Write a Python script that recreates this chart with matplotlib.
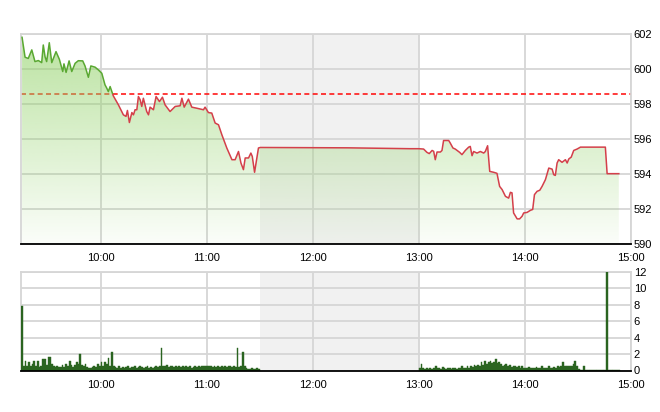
import numpy as np
import matplotlib
matplotlib.use("Agg")
import matplotlib.pyplot as plt
from matplotlib.patches import Rectangle, Polygon

plt.rcParams['font.family'] = ['Liberation Sans', 'DejaVu Sans']

# ---- price series (time in minutes since midnight, index value) ----
price_min = [555.6, 557.3, 559.1, 561.1, 562.9, 564.8, 566.7, 567.6, 568.6, 569.5,
             571.0, 572.4, 574.8, 576.7, 578.6, 579.3, 580.5, 582.2, 583.7, 585.6,
             587.4, 589.9, 591.2, 593.1, 594.5, 596.9, 598.8, 600.7, 602.5, 603.5,
             604.4, 605.4, 607.2, 610.1, 612.9, 614.4, 615.2, 616.3, 617.7, 618.6,
             619.5, 620.5, 621.4, 622.4, 623.3, 624.2, 626.1, 627.1, 628.0, 629.9,
             631.4, 633.3, 635.0, 636.5, 639.3, 642.2, 645.0, 646.0, 647.3, 649.7,
             651.6, 654.4, 658.2, 659.1, 661.0, 662.9, 664.8, 666.7, 668.6, 671.4,
             674.3, 676.1, 678.0, 679.4, 680.8, 681.8, 683.7, 685.0, 685.8, 687.1,
             689.3, 690.3, 740.0, 775.0, 780.0,
             782.7, 784.6, 785.9, 787.5, 788.4, 789.3, 790.3, 792.2, 793.1, 794.0,
             796.9, 797.8, 799.3, 800.6, 803.1, 804.4, 806.3, 808.2, 809.1, 810.1,
             811.0, 812.9, 814.8, 816.7, 817.6, 818.9, 820.1, 822.3, 824.2, 825.7,
             827.1, 829.0, 830.8, 831.8, 832.7, 833.6, 835.6, 837.0, 838.4, 839.3,
             841.2, 843.1, 844.4, 845.4, 846.9, 848.4, 849.7, 851.6, 853.5, 855.4,
             856.3, 857.2, 858.2, 859.1, 861.0, 862.9, 863.9, 864.8, 866.2, 867.6,
             869.5, 871.4, 885.5, 886.5, 893.1]
price_val = [601.81, 600.67, 600.60, 601.09, 600.42, 600.48, 600.36, 601.37, 600.70, 600.42,
             601.50, 600.36, 600.99, 600.55, 599.85, 600.29, 599.80, 600.46, 599.85, 600.32,
             600.47, 600.46, 600.17, 599.52, 600.17, 600.10, 599.94, 599.75, 599.09, 598.90,
             598.70, 598.99, 598.46, 597.94, 597.37, 597.28, 597.62, 596.93, 597.50, 597.37,
             597.66, 597.66, 598.42, 598.23, 597.85, 598.32, 597.56, 597.37, 597.81, 597.66,
             598.42, 598.13, 598.38, 597.94, 597.56, 597.85, 597.89, 598.32, 597.81, 598.27,
             597.81, 597.75, 597.66, 597.81, 597.50, 597.47, 596.90, 596.80, 596.23, 595.47,
             594.80, 594.80, 595.27, 594.61, 594.23, 594.90, 594.90, 595.18, 594.99, 594.08,
             595.47, 595.50, 595.48, 595.43, 595.43,
             595.41, 595.22, 595.15, 595.33, 595.28, 594.80, 595.24, 595.24, 595.33, 595.90,
             595.90, 595.75, 595.47, 595.41, 595.22, 595.09, 595.33, 595.52, 595.56, 595.03,
             595.27, 595.18, 595.27, 595.18, 595.27, 595.60, 594.13, 594.08, 594.02, 593.27,
             593.09, 592.70, 592.60, 592.93, 592.90, 591.75, 591.41, 591.41, 591.56, 591.75,
             591.78, 591.90, 591.95, 592.80, 592.99, 593.05, 593.27, 593.66, 594.32, 594.26,
             593.94, 593.90, 594.61, 594.80, 594.65, 594.80, 594.61, 594.84, 594.95, 595.33,
             595.41, 595.52, 595.52, 594.00, 594.00]
ref_price = 598.55

# ---- volume (one bar per minute) ----
vol_am_start = 555   # 09:15
vol_am = [7.9, 0.5, 1.2, 0.6, 1.0, 0.5, 0.8, 1.2, 0.6, 1.1,
          0.4, 0.6, 1.35, 1.35, 0.7, 1.6, 1.6, 0.8, 0.5, 0.4,
          0.5, 0.4, 0.4, 0.7, 0.4, 0.8, 0.5, 1.2, 0.7, 0.4,
          0.7, 1.0, 0.8, 2.0, 0.7, 0.5, 0.8, 0.4, 0.3, 0.3,
          0.4, 0.6, 0.4, 0.8, 0.6, 1.0, 0.5, 1.0, 0.8, 1.55,
          0.6, 2.3, 0.6, 0.4, 0.3, 0.5, 0.3, 0.4, 0.3, 0.4,
          0.5, 0.3, 0.4, 0.4, 0.5, 0.3, 0.4, 0.6, 0.4, 0.3,
          0.4, 0.5, 0.3, 0.4, 0.3, 0.4, 0.5, 0.4, 0.6, 2.7,
          0.5, 0.5, 0.7, 0.4, 0.6, 0.5, 0.4, 0.5, 0.4, 0.5,
          0.4, 0.5, 0.4, 0.6, 0.4, 0.5, 0.3, 0.4, 0.5, 0.4,
          0.5, 0.4, 0.6, 0.5, 0.6, 0.5, 0.5, 0.6, 0.4, 0.5,
          0.4, 0.5, 0.4, 0.5, 0.4, 0.5, 0.4, 0.5, 0.6, 0.4,
          0.5, 0.4, 2.7, 0.4, 0.6, 2.2, 0.5, 0.3, 0.2, 0.2,
          0.3, 0.2, 0.2, 0.3, 0.2]
vol_pm_start = 780   # 13:00
vol_pm = [0.3, 0.8, 0.3, 0.2, 0.3, 0.2, 0.3, 0.2, 0.3, 0.5,
          0.3, 0.3, 0.2, 0.4, 0.3, 0.2, 0.3, 0.3, 0.2, 0.3,
          0.3, 0.2, 0.3, 0.3, 0.5, 0.3, 0.3, 0.5, 0.3, 0.6,
          0.4, 0.7, 0.5, 0.7, 0.6, 1.0, 0.7, 1.1, 0.8, 1.0,
          1.2, 0.9, 1.0, 1.35, 0.9, 1.0, 0.8, 0.5, 0.7, 0.8,
          0.5, 0.7, 0.4, 0.6, 0.5, 0.4, 0.6, 0.3, 0.6, 0.3,
          0.3, 0.3, 0.4, 0.3, 0.3, 0.3, 0.4, 0.3, 0.3, 0.5,
          0.3, 0.3, 0.3, 0.5, 0.3, 0.3, 0.4, 0.3, 0.6, 0.4,
          0.5, 1.0, 0.6, 0.6, 0.6, 0.6, 0.6, 0.8, 1.2, 0.5,
          0.2, 0.1, 0.1, 0.5, 0.1, 0.1, 0.1, 0.1, 0.1, 0.1,
          0.1, 0.1, 0.1, 0.1, 0.1, 0.1, 12.0, 0.1, 0.1, 0.1,
          0.1, 0.1, 0.1, 0.1]

tick_min = [600, 660, 720, 780, 840, 900]
tick_lbl = ["10:00", "11:00", "12:00", "13:00", "14:00", "15:00"]
price_ticks = [590, 592, 594, 596, 598, 600, 602]
vol_ticks = [0, 2, 4, 6, 8, 10, 12]

X0, X1 = 555, 900
LUNCH = (690, 780)
GRID = '#d6d6d6'

fig = plt.figure(figsize=(6.6, 4.12), dpi=100)
ax1 = fig.add_axes([21/660, 1-243.5/412, 610/660, 209.5/412])
ax2 = fig.add_axes([21/660, 1-370.5/412, 610/660, 98.5/412])


def style(ax, yticks, ylim):
    ax.set_xlim(X0, X1)
    ax.set_ylim(*ylim)
    ax.axvspan(*LUNCH, color='#f1f1f1', lw=0, zorder=0)
    for y in yticks:
        ax.axhline(y, color=GRID, lw=1.3, zorder=1)
    for t in tick_min:
        ax.axvline(t, color=GRID, lw=1.3, zorder=1)
    ax.yaxis.tick_right()
    ax.set_yticks(yticks)
    ax.set_yticklabels([str(v) for v in yticks])
    ax.set_xticks(tick_min)
    ax.set_xticklabels(tick_lbl)
    ax.tick_params(axis='both', length=0, labelsize=8, colors='black')
    ax.tick_params(axis='y', pad=2)
    ax.tick_params(axis='x', pad=7)
    for s in ['left', 'top', 'right']:
        ax.spines[s].set_color(GRID)
        ax.spines[s].set_linewidth(1.3)
    ax.spines['bottom'].set_color('black')
    ax.spines['bottom'].set_linewidth(1.3)
    ax.spines['bottom'].set_zorder(5)


style(ax1, price_ticks, (590, 602))
style(ax2, vol_ticks, (0, 12))

# dashed reference line (below the translucent fill)
ax1.axhline(ref_price, color='#ff1a1a', lw=1.2, ls=(0, (3, 2)), zorder=1.5)

# gradient fill under price
pm = np.array(price_min)
pv = np.array(price_val)
verts = np.column_stack([np.r_[pm[0], pm, pm[-1]], np.r_[590, pv, 590]])
poly = Polygon(verts, closed=True, facecolor='none', edgecolor='none', transform=ax1.transData)
ax1.add_patch(poly)
n = 256
grad = np.zeros((n, 1, 4))
frac = np.linspace(1, 0, n)  # top -> bottom
grad[:, 0, 0] = 150/255
grad[:, 0, 1] = 212/255
grad[:, 0, 2] = 110/255
grad[:, 0, 3] = 0.04 + 0.62 * frac
im = ax1.imshow(grad, extent=[X0, X1, 590, 602], aspect='auto', origin='upper',
                zorder=2, interpolation='bilinear')
im.set_clip_path(poly)

# price line: green above reference, red below
l_up, = ax1.plot(pm, pv, color='#5aa832', lw=1.1, zorder=3)
l_dn, = ax1.plot(pm, pv, color='#d43f4a', lw=1.1, zorder=3)
l_up.set_clip_path(Rectangle((X0, ref_price), X1 - X0, 20, transform=ax1.transData))
l_dn.set_clip_path(Rectangle((X0, 580), X1 - X0, ref_price - 580, transform=ax1.transData))

# volume bars
am_x = vol_am_start + np.arange(len(vol_am))
pm_x = vol_pm_start + np.arange(len(vol_pm))
for xs, vs in [(am_x, vol_am), (pm_x, vol_pm)]:
    ax2.bar(xs, vs, width=1.0, align='edge', color='#2a6420', edgecolor='#2a6420',
            lw=0.3, zorder=3)

fig.savefig('out.png', dpi=100)
